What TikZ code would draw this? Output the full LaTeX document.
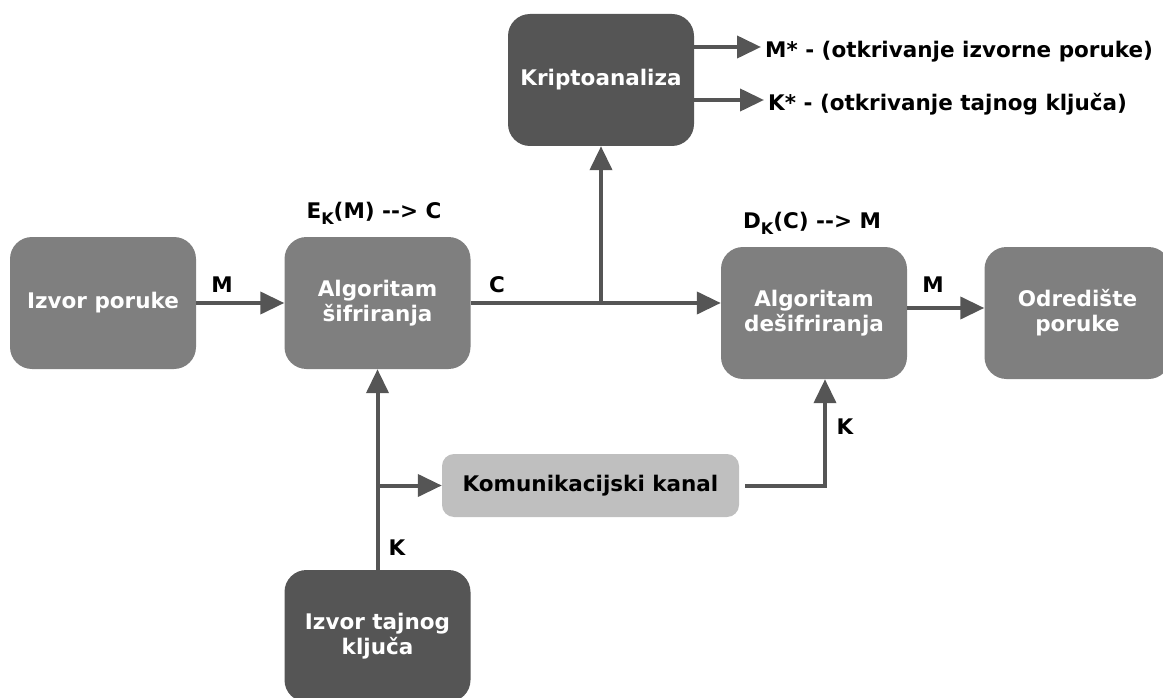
\documentclass[tikz,border=0pt]{standalone}
\usepackage{fontspec}
\setmainfont{DejaVu Sans}
\usetikzlibrary{arrows.meta, positioning}
\definecolor{boxgray}{RGB}{127,127,127}
\definecolor{boxdark}{RGB}{85,85,85}
\definecolor{boxlight}{RGB}{191,191,191}
\definecolor{linegray}{RGB}{85,85,85}
\newcommand{\subK}{\raisebox{-6pt}{\fontsize{16}{16}\selectfont K}}

\begin{document}
\begin{tikzpicture}[x=1pt, y=-1pt,
    block/.style={rectangle, fill=boxgray, minimum width=186pt, minimum height=132pt, rounded corners=22pt, align=center, text=white, inner sep=0pt, font=\fontsize{21.5}{25}\selectfont\bfseries},
    darkblock/.style={block, fill=boxdark},
    chan/.style={block, fill=boxlight, text=black, minimum width=297pt, minimum height=63pt, rounded corners=12pt},
    lbl/.style={inner sep=0pt, font=\fontsize{21.5}{25}\selectfont\bfseries},
    arr/.style={-{Triangle[length=24pt, width=22pt]}, line width=4pt, color=linegray},
]
\useasboundingbox (0,0) rectangle (1163,698);
\clip (0,0) rectangle (1163,698);

\node[block] (izvor) at (103,303) {Izvor poruke};
\node[block] (sifr) at (377.5,303) {Algoritam\\šifriranja};
\node[darkblock] (kripto) at (601,80) {Kriptoanaliza};
\node[block] (desifr) at (814,313) {Algoritam\\dešifriranja};
\node[block] (odred) at (1077.5,313) {Odredište\\poruke};
\node[chan] (kanal) at (590.5,485.5) {Komunikacijski kanal};
\node[darkblock] (kljuc) at (377.5,636) {Izvor tajnog\\ključa};

\node[lbl, anchor=west] (mout) at (765,52) {M* - (otkrivanje izvorne poruke)};
\node[lbl, anchor=west] (kout) at (768,104) {K* - (otkrivanje tajnog ključa)};

\node[lbl] (ek) at (374,213) {E\subK(M) -{}-> C};
\node[lbl] (dk) at (812,223) {D\subK(C) -{}-> M};
\node[lbl] (m1) at (222,285) {M};
\node[lbl] (c1) at (497,285) {C};
\node[lbl] (m2) at (933,285) {M};
\node[lbl] (k1) at (397,548) {K};
\node[lbl] (k2) at (845,427) {K};

\coordinate (split) at (kripto.south |- sifr.east);
\coordinate (kbranch) at (kljuc.north |- kanal.west);
\coordinate (kin) at ([xshift=11pt]desifr.south);

\draw[arr] (izvor) -- (sifr);
\draw[arr] (sifr.east) -- (sifr.east -| desifr.west);
\draw[arr] (split) -- (kripto.south);
\draw[arr] (kripto.east |- 0,47) -- ([xshift=-4pt]mout.west |- 0,47);
\draw[arr] (kripto.east |- 0,100) -- ([xshift=-4pt]kout.west |- 0,100);
\draw[arr] (desifr.east |- 0,308) -- (odred.west |- 0,308);
\draw[arr] (kljuc.north) -- (sifr.south);
\draw[arr] (kbranch) -- (kanal.west);
\draw[arr] ([xshift=6pt]kanal.east) -| (kin);
\end{tikzpicture}
\end{document}
